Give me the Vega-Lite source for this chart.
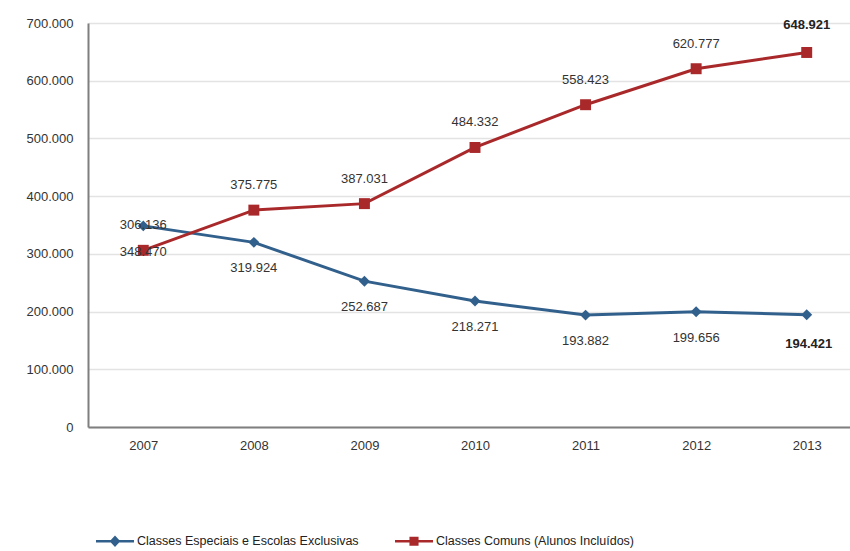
{
  "$schema": "https://vega.github.io/schema/vega-lite/v6.json",
  "width": 762,
  "height": 404,
  "autosize": {"type": "none"},
  "padding": {"left": 88, "top": 23, "right": 0, "bottom": 124},
  "background": "white",
  "config": {
    "locale": {"number": {"decimal": ",", "thousands": ".", "grouping": [3], "currency": ["R$", ""]}},
    "font": "Liberation Sans",
    "view": {"stroke": null}
  },
  "data": {
    "values": [
      {"year": "2007", "series": "Classes Especiais e Escolas Exclusivas", "value": 348470},
      {"year": "2008", "series": "Classes Especiais e Escolas Exclusivas", "value": 319924},
      {"year": "2009", "series": "Classes Especiais e Escolas Exclusivas", "value": 252687},
      {"year": "2010", "series": "Classes Especiais e Escolas Exclusivas", "value": 218271},
      {"year": "2011", "series": "Classes Especiais e Escolas Exclusivas", "value": 193882},
      {"year": "2012", "series": "Classes Especiais e Escolas Exclusivas", "value": 199656},
      {"year": "2013", "series": "Classes Especiais e Escolas Exclusivas", "value": 194421},
      {"year": "2007", "series": "Classes Comuns (Alunos Incluídos)", "value": 306136},
      {"year": "2008", "series": "Classes Comuns (Alunos Incluídos)", "value": 375775},
      {"year": "2009", "series": "Classes Comuns (Alunos Incluídos)", "value": 387031},
      {"year": "2010", "series": "Classes Comuns (Alunos Incluídos)", "value": 484332},
      {"year": "2011", "series": "Classes Comuns (Alunos Incluídos)", "value": 558423},
      {"year": "2012", "series": "Classes Comuns (Alunos Incluídos)", "value": 620777},
      {"year": "2013", "series": "Classes Comuns (Alunos Incluídos)", "value": 648921}
    ]
  },
  "encoding": {
    "x": {
      "field": "year", "type": "ordinal", "scale": {"paddingInner": 0, "paddingOuter": 0, "range": [0, 774]},
      "axis": {"title": null, "labelAngle": 0, "labelFontSize": 13, "labelColor": "#333333", "labelPadding": 12, "ticks": false, "domainColor": "#7f7f7f", "domainWidth": 2, "grid": false}
    },
    "y": {
      "field": "value", "type": "quantitative", "scale": {"domain": [0, 700000]},
      "axis": {"title": null, "values": [0, 100000, 200000, 300000, 400000, 500000, 600000, 700000], "format": ",d", "labelFontSize": 13, "labelColor": "#333333", "labelPadding": 15, "ticks": false, "domainColor": "#7f7f7f", "domainWidth": 2, "gridColor": "#e3e3e3", "gridWidth": 1.5}
    }
  },
  "layer": [
    {
      "mark": {"type": "line", "strokeWidth": 3},
      "encoding": {
        "color": {
          "field": "series", "type": "nominal",
          "scale": {"domain": ["Classes Especiais e Escolas Exclusivas", "Classes Comuns (Alunos Incluídos)"], "range": ["#32608c", "#a9292b"]},
          "legend": {
            "orient": "none", "legendX": 8, "legendY": 499, "direction": "horizontal", "title": null,
            "symbolSize": 1444, "labelFontSize": 12.5, "labelColor": "#222222", "columnPadding": 36, "labelOffset": 3, "labelLimit": 0,
            "encode": {"symbols": {"update": {
              "shape": {"signal": "datum.value == 'Classes Especiais e Escolas Exclusivas' ? 'M-1,-0.07H1V0.07H-1Z M-0.28,0L0,-0.3L0.28,0L0,0.3Z' : 'M-1,-0.07H1V0.07H-1Z M-0.24,-0.24H0.24V0.24H-0.24Z'"},
              "fill": {"scale": "color", "field": "value"},
              "strokeWidth": {"value": 0}
            }}}
          }
        }
      }
    },
    {
      "transform": [{"filter": "datum.series == 'Classes Especiais e Escolas Exclusivas'"}],
      "mark": {"type": "point", "filled": true, "opacity": 1, "shape": "diamond", "size": 120, "color": "#32608c"},
      "encoding": {}
    },
    {
      "transform": [{"filter": "datum.series == 'Classes Comuns (Alunos Incluídos)'"}],
      "mark": {"type": "point", "filled": true, "opacity": 1, "shape": "square", "size": 120, "color": "#a9292b"},
      "encoding": {}
    },
    {
      "transform": [{"filter": "datum.series == 'Classes Comuns (Alunos Incluídos)' && datum.year != '2013'"}],
      "mark": {"type": "text", "dy": -25, "fontSize": 13},
      "encoding": {"text": {"field": "value", "type": "quantitative", "format": ",d"}, "color": {"value": "#333333"}}
    },
    {
      "transform": [{"filter": "datum.series == 'Classes Comuns (Alunos Incluídos)' && datum.year == '2013'"}],
      "mark": {"type": "text", "dy": -27, "fontSize": 13, "fontWeight": "bold"},
      "encoding": {"text": {"field": "value", "type": "quantitative", "format": ",d"}, "color": {"value": "#222222"}}
    },
    {
      "transform": [{"filter": "datum.series == 'Classes Especiais e Escolas Exclusivas' && datum.year != '2013'"}],
      "mark": {"type": "text", "dy": 26, "fontSize": 13},
      "encoding": {"text": {"field": "value", "type": "quantitative", "format": ",d"}, "color": {"value": "#333333"}}
    },
    {
      "transform": [{"filter": "datum.series == 'Classes Especiais e Escolas Exclusivas' && datum.year == '2013'"}],
      "mark": {"type": "text", "dy": 29, "dx": 2, "fontSize": 13, "fontWeight": "bold"},
      "encoding": {"text": {"field": "value", "type": "quantitative", "format": ",d"}, "color": {"value": "#222222"}}
    }
  ]
}
